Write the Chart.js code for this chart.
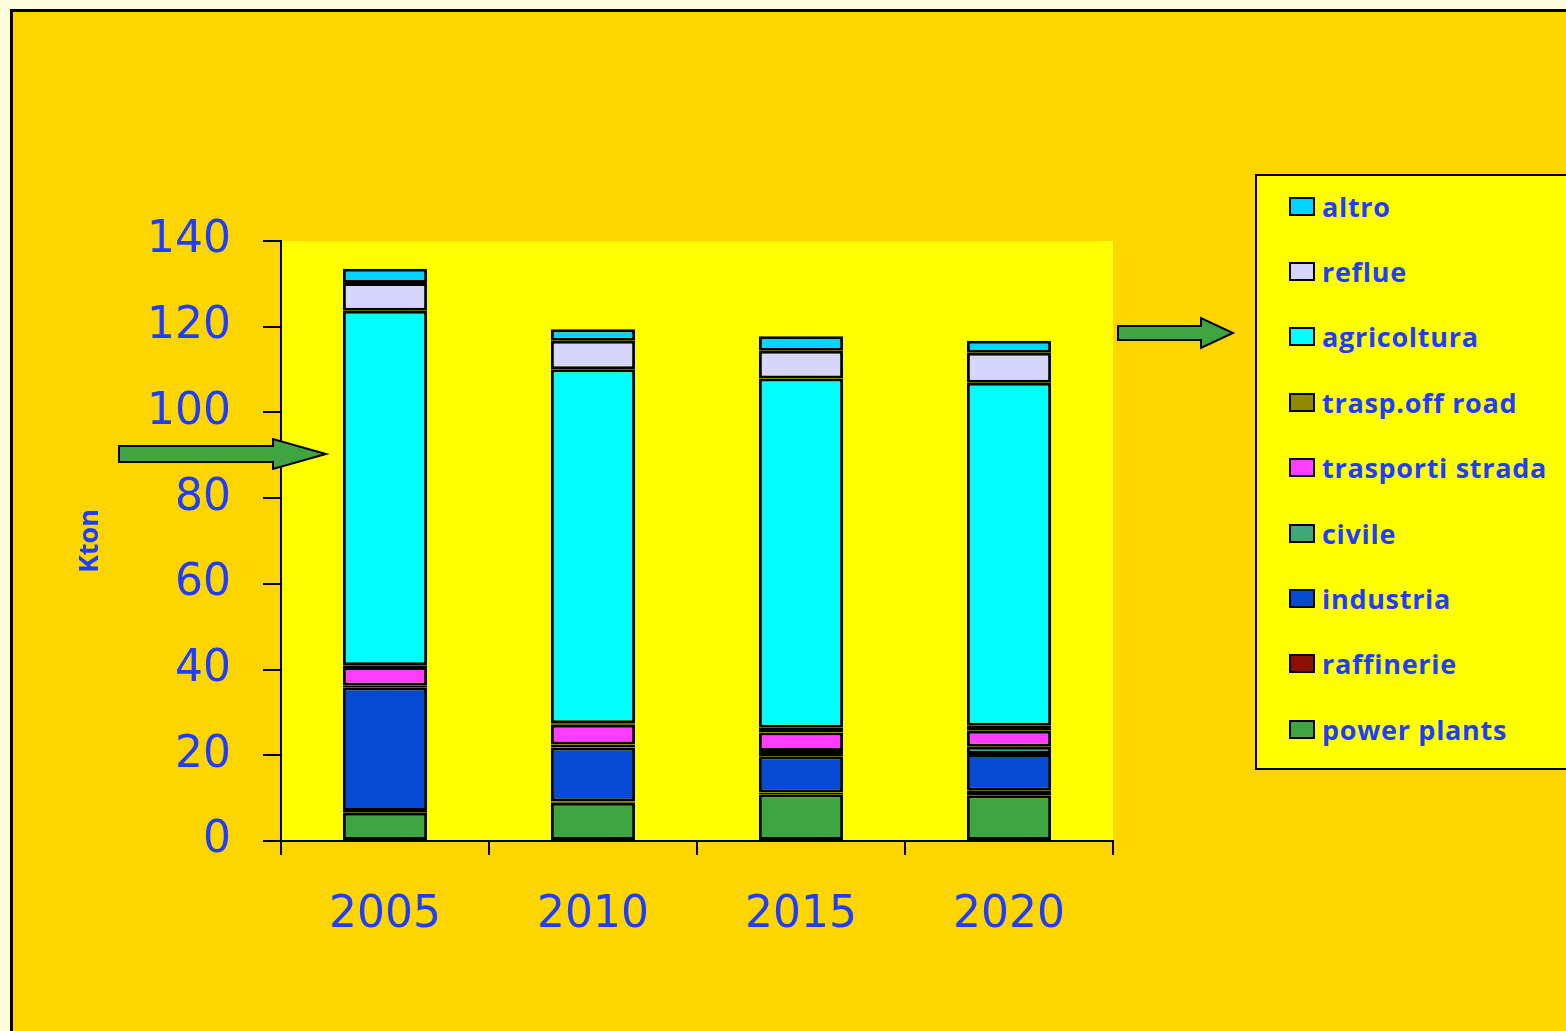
<!DOCTYPE html>
<html>
<head>
<meta charset="utf-8">
<script src="https://cdn.jsdelivr.net/npm/chart.js@4/dist/chart.umd.min.js"></script>
<style>
    html, body { margin: 0; padding: 0; }
    body { width: 1566px; height: 1031px; background: #fffcdc; overflow: hidden; position: relative; }
    #panel { position: absolute; left: 10px; top: 9px; width: 1600px; height: 1100px;
             background: #ffd500; border-left: 3px solid #000; border-top: 3px solid #000; }
    #wrap { position: absolute; left: 0; top: 0; width: 1566px; height: 1031px; }
    #legend { position: absolute; left: 1255px; top: 174px; width: 400px; height: 592px;
              background: #ffff00; border: 2px solid #000; }
    .item { position: absolute; left: 32px; height: 30px; display: flex; align-items: center;
            font: bold 27px "Open Sans", sans-serif; letter-spacing: 0.7px; color: #1f3dff; white-space: nowrap; }
    .box { width: 22px; height: 15px; border: 2px solid #000; margin-right: 7px; }
</style>
</head>
<body>
<div id="panel"></div>
<div id="wrap"><canvas id="chart"></canvas></div>
<div id="legend"></div>
<script>
"use strict";

const years = ['2005', '2010', '2015', '2020'];

// Kton, stacked from the bottom up
const powerPlants = [6.6, 8.9, 10.9, 10.7];
const raffinerie  = [0.4, 0.3, 0.4, 1.0];
const industria   = [28.9, 12.6, 8.5, 8.6];
const civile      = [0.3, 0.7, 1.2, 1.7];
const trasporti   = [4.4, 4.6, 4.3, 3.7];
const offRoad     = [0.4, 0.4, 1.1, 1.2];
const agricoltura = [82.7, 82.6, 81.5, 80.0];
const reflue      = [6.5, 6.6, 6.5, 7.0];
const altro       = [3.3, 2.7, 3.4, 2.8];

const yTicks = [0, 20, 40, 60, 80, 100, 120, 140];

const BLUE = '#1f3dff';

window.onload = function _onload() {
    const series = [
        ['power plants', powerPlants, '#3ea541'],
        ['raffinerie', raffinerie, '#8c0f00'],
        ['industria', industria, '#054bd1'],
        ['civile', civile, '#40a77a'],
        ['trasporti strada', trasporti, '#ff3cff'],
        ['trasp.off road', offRoad, '#8f8a00'],
        ['agricoltura', agricoltura, '#00ffff'],
        ['reflue', reflue, '#d6d6fc'],
        ['altro', altro, '#00d4ff'],
    ];
    const datasets = series.map(function _ds(s) {
        return {
            label: s[0],
            data: s[1],
            backgroundColor: s[2],
            borderColor: '#000000',
            borderWidth: 3,
            borderSkipped: false,
            categoryPercentage: 1.0,
            barPercentage: 0.405
        };
    });

    // yellow plot area + decorative green arrows
    const decor = {
        id: 'decor',
        beforeDraw(chart) {
            const a = chart.chartArea;
            const ctx = chart.ctx;
            ctx.save();
            ctx.fillStyle = '#ffff00';
            ctx.fillRect(a.left, a.top, a.right - a.left, a.bottom - a.top);
            ctx.restore();
        },
        afterDraw(chart) {
            const ctx = chart.ctx;
            function arrow(x0, x1, x2, yc, shaft, head) {
                ctx.beginPath();
                ctx.moveTo(x0, yc - shaft);
                ctx.lineTo(x1, yc - shaft);
                ctx.lineTo(x1, yc - head);
                ctx.lineTo(x2, yc);
                ctx.lineTo(x1, yc + head);
                ctx.lineTo(x1, yc + shaft);
                ctx.lineTo(x0, yc + shaft);
                ctx.closePath();
                ctx.fill();
                ctx.stroke();
            }
            ctx.save();
            ctx.fillStyle = '#3ea541';
            ctx.strokeStyle = '#000';
            ctx.lineWidth = 2;
            ctx.lineJoin = 'miter';
            arrow(119, 273, 326, 454, 8, 15);
            arrow(1118, 1201, 1233, 333, 7, 15);
            ctx.restore();
        }
    };

    const ctx = document.getElementById('chart').getContext('2d');
    const chart = new Chart(ctx, {
        type: 'bar',
        data: { labels: years, datasets: datasets },
        plugins: [decor],
        options: {
            responsive: true,
            maintainAspectRatio: false,
            animation: false,
            layout: { padding: { left: 74, top: 241, right: 453, bottom: 0 } },
            plugins: {
                legend: { display: false },
                tooltip: { enabled: false }
            },
            scales: {
                x: {
                    stacked: true,
                    afterFit(scale) { scale.height = 190; },
                    border: { display: true, color: '#000', width: 2 },
                    grid: { drawOnChartArea: false, drawTicks: true, tickLength: 14, color: '#000', lineWidth: 2, offset: true },
                    ticks: { color: BLUE, padding: 34, font: { family: 'DejaVu Sans', size: 44 } }
                },
                y: {
                    stacked: true,
                    min: 0,
                    max: 140,
                    afterFit(scale) { scale.width = 207; },
                    afterBuildTicks(scale) { scale.ticks = yTicks.map(v => ({ value: v })); },
                    border: { display: true, color: '#000', width: 2 },
                    grid: { drawOnChartArea: false, drawTicks: true, tickLength: 18, color: '#000', lineWidth: 2 },
                    ticks: { color: BLUE, padding: 32, font: { family: 'DejaVu Sans', size: 44 } },
                    title: {
                        display: true,
                        text: 'Kton',
                        color: BLUE,
                        padding: 0,
                        font: { family: 'Open Sans', size: 27, weight: 'bold' }
                    }
                }
            }
        }
    });

    // legend box, top entry is the last dataset
    const legend = document.getElementById('legend');
    const ds = chart.data.datasets.slice().reverse();
    for (let i = 0; i < ds.length; i++) {
        const item = document.createElement('DIV');
        item.className = 'item';
        item.style.top = (15 + i * 65.4) + 'px';
        const box = document.createElement('SPAN');
        box.className = 'box';
        box.style.backgroundColor = ds[i].backgroundColor;
        item.appendChild(box);
        item.appendChild(document.createTextNode(ds[i].label));
        legend.appendChild(item);
    }
};
</script>
</body>
</html>
